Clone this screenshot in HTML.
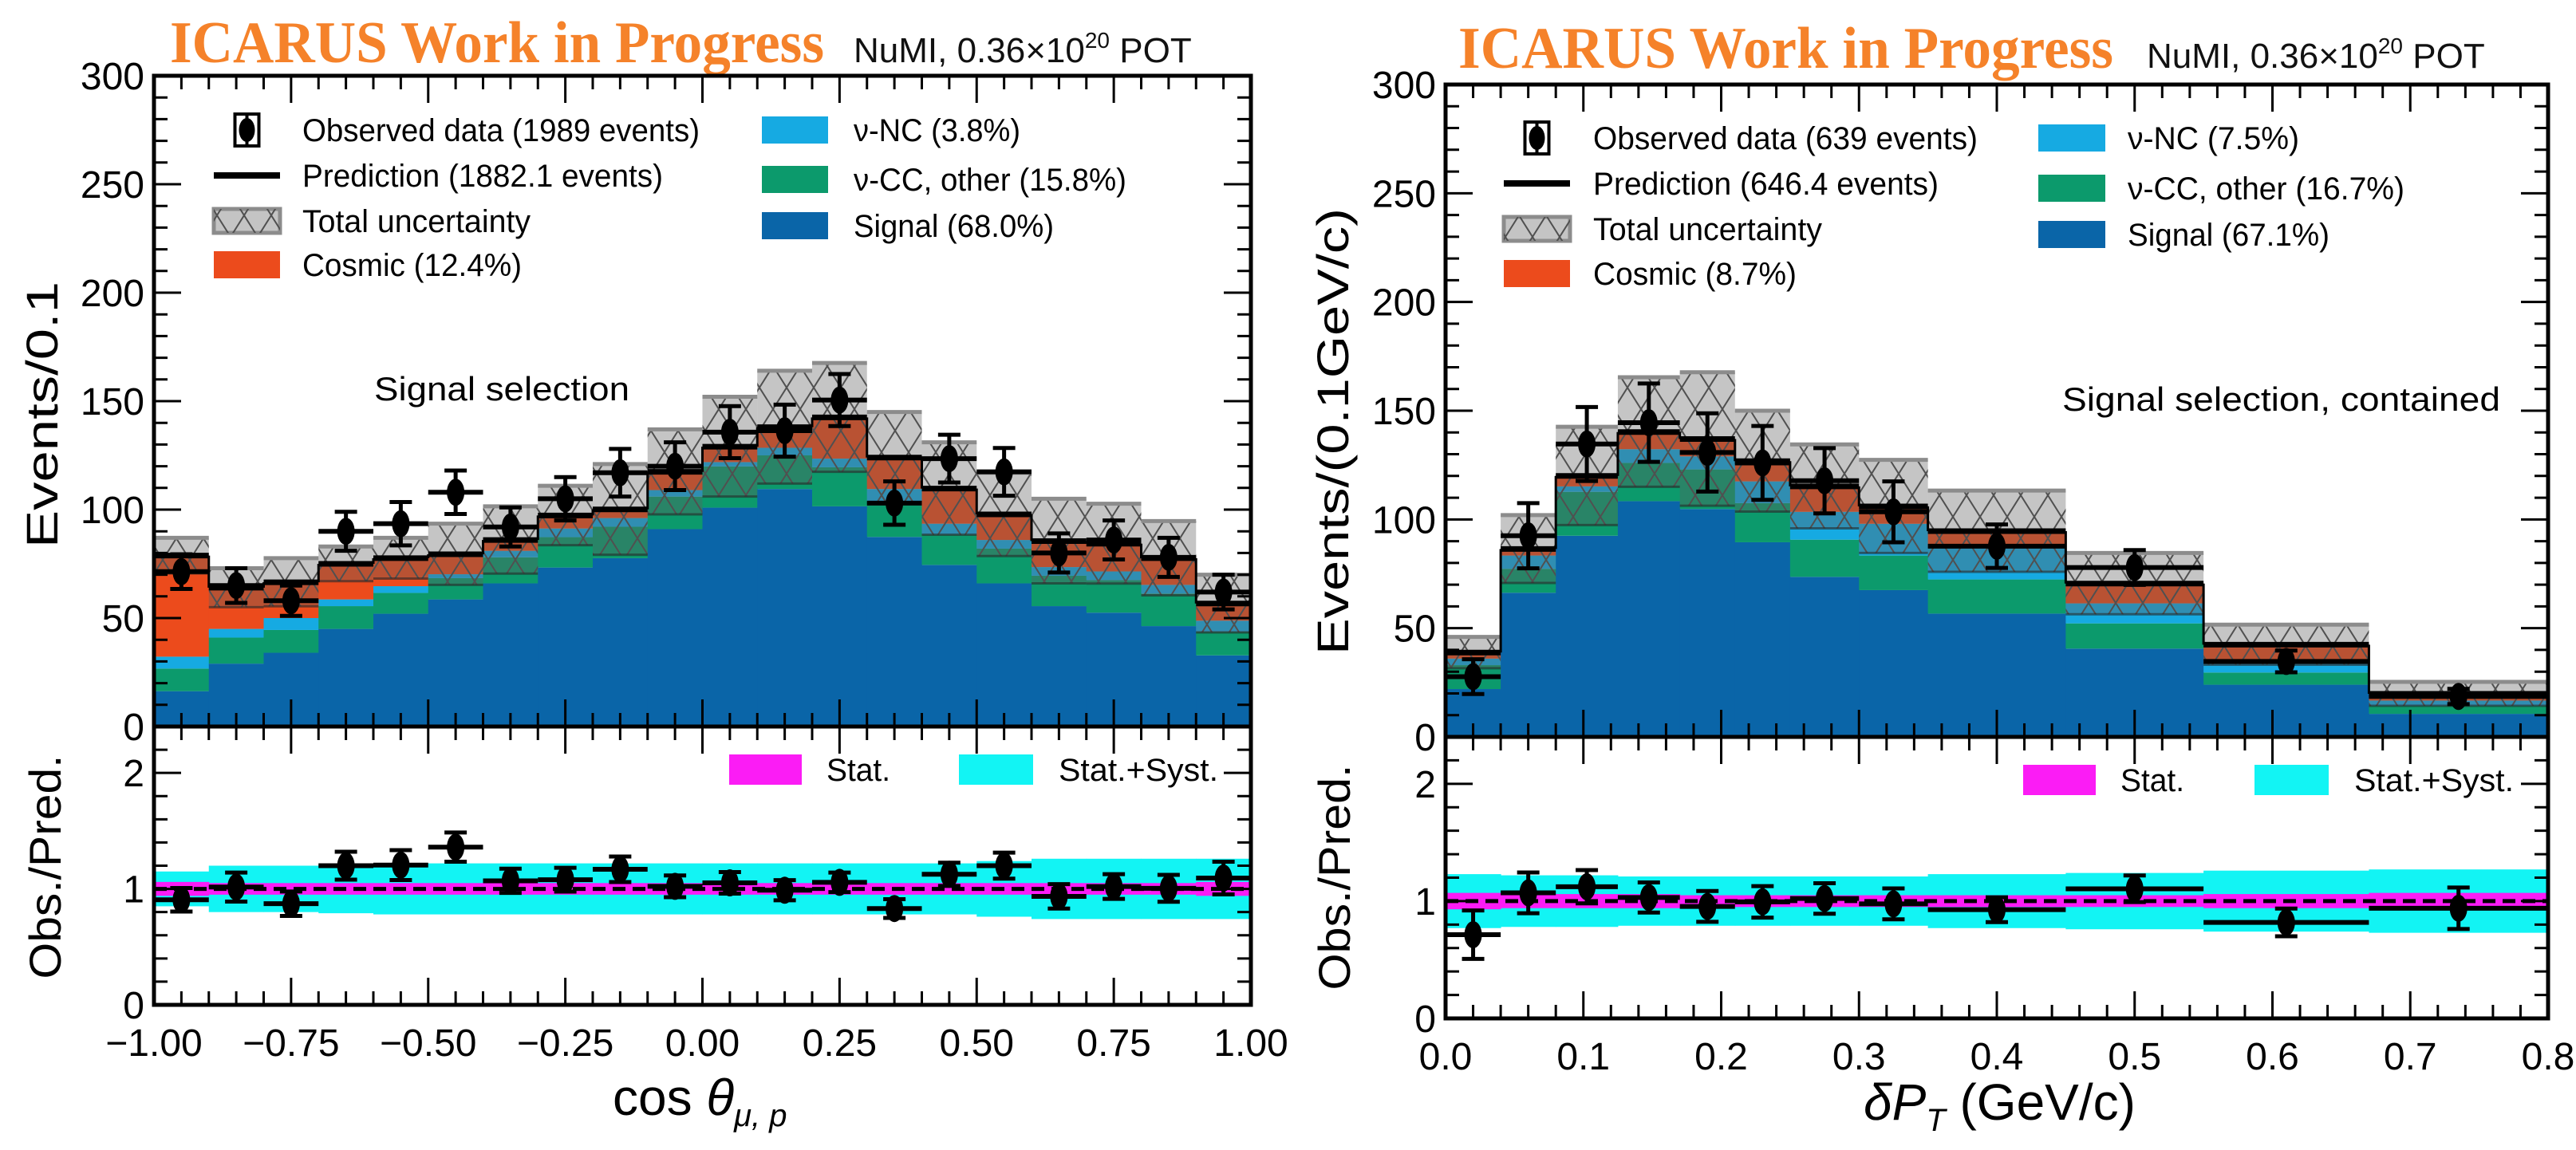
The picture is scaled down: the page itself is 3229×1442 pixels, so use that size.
<!DOCTYPE html>
<html>
<head>
<meta charset="utf-8">
<style>
  html,body{margin:0;padding:0;background:#fff;}
  svg{display:block;font-family:"Liberation Sans",sans-serif;}
</style>
</head>
<body>
<svg id="chart" xmlns="http://www.w3.org/2000/svg" width="3229" height="1442" viewBox="0 0 3229 1442">
  <defs>
    <pattern id="hatch" patternUnits="userSpaceOnUse" width="34" height="54">
      <path d="M0,0 L34,54 M34,0 L0,54" stroke="#505050" stroke-width="2" fill="none"/>
    </pattern>
    <clipPath id="clipL"><rect x="193" y="95" width="1375" height="1166"/></clipPath>
    <clipPath id="clipR"><rect x="1812" y="106" width="1382" height="1171"/></clipPath>
  </defs>

  <!-- Titles -->
  <text x="213" y="78" font-family="Liberation Serif, serif" font-weight="bold" font-size="74" fill="#f5822a" textLength="820" lengthAdjust="spacingAndGlyphs">ICARUS Work in Progress</text>
  <text x="1070" y="78" font-size="44" fill="#111" >NuMI, 0.36×10<tspan font-size="28" dy="-18">20</tspan><tspan dy="18"> POT</tspan></text>
  <text x="1828" y="85" font-family="Liberation Serif, serif" font-weight="bold" font-size="74" fill="#f5822a" textLength="821" lengthAdjust="spacingAndGlyphs">ICARUS Work in Progress</text>
  <text x="2691" y="85" font-size="44" fill="#111">NuMI, 0.36×10<tspan font-size="28" dy="-18">20</tspan><tspan dy="18"> POT</tspan></text>

  <!-- Axis titles -->
  <text transform="translate(72,520) rotate(-90)" text-anchor="middle" font-size="56" textLength="334" lengthAdjust="spacingAndGlyphs">Events/0.1</text>
  <text transform="translate(76,1087) rotate(-90)" text-anchor="middle" font-size="56" textLength="281" lengthAdjust="spacingAndGlyphs">Obs./Pred.</text>
  <text transform="translate(1690,541) rotate(-90)" text-anchor="middle" font-size="56" textLength="560" lengthAdjust="spacingAndGlyphs">Events/(0.1GeV/c)</text>
  <text transform="translate(1692,1100) rotate(-90)" text-anchor="middle" font-size="56" textLength="283" lengthAdjust="spacingAndGlyphs">Obs./Pred.</text>
  <text x="768" y="1398" font-size="64">cos <tspan font-style="italic">θ</tspan><tspan font-size="40" dy="14" font-style="italic">μ, p</tspan></text>
  <text x="2336" y="1404" font-size="64"><tspan font-style="italic">δP</tspan><tspan font-size="40" dy="14" font-style="italic">T</tspan><tspan dy="-14"> (GeV/c)</tspan></text>

  <text x="469" y="502" font-size="42" textLength="320" lengthAdjust="spacingAndGlyphs">Signal selection</text>
  <text x="2585" y="515" font-size="42" textLength="549" lengthAdjust="spacingAndGlyphs">Signal selection, contained</text>
</svg>
<script>
// ---------- LEFT PANEL DATA (cos theta_mu,p) ----------
const leftEdges = [-1.0,-0.9,-0.8,-0.7,-0.6,-0.5,-0.4,-0.3,-0.2,-0.1,0.0,0.1,0.2,0.3,0.4,0.5,0.6,0.7,0.8,0.9,1.0];
const leftSignal = [16.3,29,34,45,52,58.6,66,73.3,77.6,91,100.9,109.5,101.5,87.4,74.5,66,55.5,52.5,46.3,32.8];
const leftCCOther = [10.4,12,10.5,10.5,9.6,9.8,12,14,14.5,15,19,15.5,18,14.6,14,16,14,15,15,11];
const leftNC = [5.5,4,5.5,3.1,3.1,1.8,3,4,4,3,2,3.5,4,7.5,5,4,4,4,4,5];
const leftCosmic = [46.6,19,16.5,16.4,12.9,9.2,5,6,4,8.4,7.1,9.5,19,14.5,16.2,11.8,12,12.8,12.3,7.9];
const leftUncTop = [87,73,77.6,83,87,93.5,101.5,111,121,137,152,164,167.6,145,131,117,105,102.7,94.7,70];
const leftData = [71.4,65,58,90,93.5,108,92,105,117,120,135.7,136.4,150.5,103,123.5,117.4,80,86,78,62];
const leftDataErr = [8,8,7,9,10,10,9,10,11,11,12,12,12,10,11,11,9,9,9,8];
const leftSystBand = [0.15,0.2,0.2,0.21,0.22,0.22,0.22,0.22,0.22,0.22,0.22,0.22,0.22,0.22,0.22,0.24,0.26,0.26,0.26,0.26];
const leftStatBand = [0.06,0.05,0.05,0.05,0.05,0.05,0.05,0.05,0.05,0.05,0.05,0.05,0.05,0.05,0.05,0.05,0.05,0.05,0.05,0.06];
const leftXTicks = [-1.0,-0.75,-0.5,-0.25,0.0,0.25,0.5,0.75,1.0];
const leftXTickLabels = ["\u22121.00","\u22120.75","\u22120.50","\u22120.25","0.00","0.25","0.50","0.75","1.00"];

// ---------- RIGHT PANEL DATA (delta P_T) ----------
const rightEdges = [0,0.04,0.08,0.125,0.17,0.21,0.25,0.3,0.35,0.45,0.55,0.67,0.8];
const rightSignal = [22,66.3,92.5,108.4,104.8,89.5,73.6,67.5,56.7,40.6,24,10.6];
const rightCCOther = [11,11,20.2,17.6,18.2,18,17.1,15.9,15.7,11.6,5.6,3.7];
const rightNC = [3,6.1,2.5,6.3,6,10,12.8,14.6,14.6,9.2,4.9,2.4];
const rightCosmic = [2.8,3,4.8,7.9,8,9.3,11.7,8,7.6,9.1,7.9,3.1];
const rightUncTop = [46,102,142.6,165.4,167.7,150,134.5,127.4,113.3,84.6,51.6,25.3];
const rightData = [27.7,92.5,134.7,144.5,130.8,126,117.8,103.5,87.7,77.9,34.7,18.6];
const rightDataErr = [8,15,17,18,18,17,15,14,10,8,5,3.5];
const rightSystBand = [0.23,0.22,0.22,0.21,0.21,0.21,0.21,0.21,0.23,0.24,0.26,0.27];
const rightStatBand = [0.07,0.06,0.06,0.06,0.05,0.05,0.05,0.05,0.05,0.05,0.06,0.07];
const rightXTicks = [0,0.1,0.2,0.3,0.4,0.5,0.6,0.7,0.8];
const rightXTickLabels = ["0.0","0.1","0.2","0.3","0.4","0.5","0.6","0.7","0.8"];

const mainYTicks = [0,50,100,150,200,250,300];
const ratioYTicks = [0,1,2];

const NS = "http://www.w3.org/2000/svg";
const svg = document.getElementById('chart');
function mk(tag, attrs, parent){
  const e = document.createElementNS(NS, tag);
  for (const k in attrs) e.setAttribute(k, attrs[k]);
  (parent || svg).appendChild(e);
  return e;
}
const COL = {signal:"#0a65a8", cc:"#0c9a6c", nc:"#16aae2", cosmic:"#ec4b1c"};

function drawPanel(P, D){
  const sx = v => P.x0 + (v - P.xmin) / (P.xmax - P.xmin) * (P.x1 - P.x0);
  const sy = v => P.y0 - v / 300 * (P.y0 - P.yTop);
  const sr = r => P.rBot - r / 2.4 * (P.rBot - P.y0);
  const g = mk('g', {'clip-path': 'url(#' + P.clip + ')'});
  
  
  const n = D.edges.length - 1;
  const totals = [];
  for (let i = 0; i < n; i++) {
    const xa = sx(D.edges[i]), xb = sx(D.edges[i+1]);
    const comps = [['signal', D.signal[i]], ['cc', D.cc[i]], ['nc', D.nc[i]], ['cosmic', D.cosmic[i]]];
    let base = 0;
    for (const [key, val] of comps) {
      const r = mk('rect', {x: xa, y: sy(base + val), width: xb - xa + 0.5, height: sy(base) - sy(base + val), fill: COL[key]}, g);
      
      
      base += val;
    }
    totals.push(base);
  }
  for (let i = 0; i < n; i++) {
    const xa = sx(D.edges[i]), xb = sx(D.edges[i+1]);
    const t = totals[i], up = D.unc[i], lo = Math.max(0, 2*t - up);
    const b = mk('rect', {x: xa, y: sy(up), width: xb - xa, height: sy(lo) - sy(up), fill: "rgba(95,95,95,0.36)"}, g);
    
    
    const h = mk('rect', {x: xa, y: sy(up), width: xb - xa, height: sy(lo) - sy(up), fill: "url(#hatch)"}, g);
    
    
    const e1 = mk('line', {x1: xa, x2: xb, y1: sy(up), y2: sy(up), stroke: "#8c8c8c", 'stroke-width': 5}, g);
    
    
    const e2 = mk('line', {x1: xa, x2: xb, y1: sy(lo), y2: sy(lo), stroke: "rgba(40,40,40,0.6)", 'stroke-width': 3}, g);
    
    
  }
  for (let i = 0; i < n; i++) {
    const xa = sx(D.edges[i]), xb = sx(D.edges[i+1]);
    const prev = i > 0 ? totals[i-1] : 0;
    const v = mk('line', {x1: xa, x2: xa, y1: sy(prev), y2: sy(totals[i]), stroke: "#000", 'stroke-width': 3}, g);
    
    
    const l = mk('line', {x1: xa, x2: xb, y1: sy(totals[i]), y2: sy(totals[i]), stroke: "#000", 'stroke-width': 7}, g);
    
    
  }
  for (let i = 0; i < n; i++) {
    const xa = sx(D.edges[i]), xb = sx(D.edges[i+1]), xc = (xa + xb) / 2;
    const y = sy(D.data[i]), yu = sy(D.data[i] + D.err[i]), yd = sy(D.data[i] - D.err[i]);
    const dg = mk('g', {}, g);
    
    
    mk('line', {x1: xa, x2: xb, y1: y, y2: y, stroke: "#000", 'stroke-width': 6}, dg);
    mk('line', {x1: xc, x2: xc, y1: yu, y2: yd, stroke: "#000", 'stroke-width': 5}, dg);
    mk('line', {x1: xc-14, x2: xc+14, y1: yu, y2: yu, stroke: "#000", 'stroke-width': 5}, dg);
    mk('line', {x1: xc-14, x2: xc+14, y1: yd, y2: yd, stroke: "#000", 'stroke-width': 5}, dg);
    mk('ellipse', {cx: xc, cy: y, rx: 11, ry: 17, fill: "#000"}, dg);
  }
  for (let i = 0; i < n; i++) {
    const xa = sx(D.edges[i]), xb = sx(D.edges[i+1]);
    const c = mk('rect', {x: xa, y: sr(1 + D.syst[i]), width: xb - xa + 0.5, height: sr(1 - D.syst[i]) - sr(1 + D.syst[i]), fill: "#12f4f4"}, g);
    
    
  }
  for (let i = 0; i < n; i++) {
    const xa = sx(D.edges[i]), xb = sx(D.edges[i+1]);
    const m = mk('rect', {x: xa, y: sr(1 + D.stat[i]), width: xb - xa + 0.5, height: sr(1 - D.stat[i]) - sr(1 + D.stat[i]), fill: "#fb1cf5"}, g);
    
    
  }
  const dl = mk('line', {x1: P.x0, x2: P.x1, y1: sr(1), y2: sr(1), stroke: "#000", 'stroke-width': 5, 'stroke-dasharray': "16,9"}, g);
  
  
  for (let i = 0; i < n; i++) {
    const xa = sx(D.edges[i]), xb = sx(D.edges[i+1]), xc = (xa + xb) / 2;
    const r = D.data[i] / totals[i], re = D.err[i] / totals[i];
    const y = sr(r), yu = sr(r + re), yd = sr(r - re);
    const dg = mk('g', {}, g);
    
    
    mk('line', {x1: xa, x2: xb, y1: y, y2: y, stroke: "#000", 'stroke-width': 6}, dg);
    mk('line', {x1: xc, x2: xc, y1: yu, y2: yd, stroke: "#000", 'stroke-width': 5}, dg);
    mk('line', {x1: xc-14, x2: xc+14, y1: yu, y2: yu, stroke: "#000", 'stroke-width': 5}, dg);
    mk('line', {x1: xc-14, x2: xc+14, y1: yd, y2: yd, stroke: "#000", 'stroke-width': 5}, dg);
    mk('ellipse', {cx: xc, cy: y, rx: 11, ry: 17, fill: "#000"}, dg);
  }
  const ax = mk('g', {stroke: "#000"});
  
  
  mk('rect', {x: P.x0, y: P.yTop, width: P.x1 - P.x0, height: P.rBot - P.yTop, fill: "none", 'stroke-width': 5}, ax);
  mk('line', {x1: P.x0, x2: P.x1, y1: P.y0, y2: P.y0, 'stroke-width': 5}, ax);
  const span = P.xmax - P.xmin;
  for (let k = 0; k <= Math.round(span / P.xMinor); k++) {
    const v = P.xmin + k * P.xMinor;
    const x = sx(v);
    const major = Math.abs(((v - P.xmin) / P.xMajor) - Math.round((v - P.xmin) / P.xMajor)) < 1e-6;
    const L = major ? 34 : 17;
    for (const yb of [P.yTop, P.y0]) mk('line', {x1: x, x2: x, y1: yb, y2: yb + L, 'stroke-width': 3}, ax);
    for (const yb of [P.y0, P.rBot]) mk('line', {x1: x, x2: x, y1: yb, y2: yb - L, 'stroke-width': 3}, ax);
  }
  for (let v = 0; v <= 300; v += 10) {
    const y = sy(v), L = (v % 50 === 0) ? 34 : 17;
    mk('line', {x1: P.x0, x2: P.x0 + L, y1: y, y2: y, 'stroke-width': 3}, ax);
    mk('line', {x1: P.x1, x2: P.x1 - L, y1: y, y2: y, 'stroke-width': 3}, ax);
  }
  for (let k = 0; k <= 12; k++) {
    const r = k * 0.2, y = sr(r), L = (k % 5 === 0) ? 34 : 17;
    mk('line', {x1: P.x0, x2: P.x0 + L, y1: y, y2: y, 'stroke-width': 3}, ax);
    mk('line', {x1: P.x1, x2: P.x1 - L, y1: y, y2: y, 'stroke-width': 3}, ax);
  }
  mainYTicks.forEach(v => {
    const t = mk('text', {x: P.x0 - 12, y: sy(v) + 17, 'text-anchor': "end", 'font-size': 48, fill: "#000"});
    
    
    t.textContent = String(v);
  });
  ratioYTicks.forEach(v => {
    const t = mk('text', {x: P.x0 - 12, y: sr(v) + 17, 'text-anchor': "end", 'font-size': 48, fill: "#000"});
    
    
    t.textContent = String(v);
  });
  P.xTicks.forEach((v, i) => {
    const t = mk('text', {x: sx(v), y: P.rBot + 64, 'text-anchor': "middle", 'font-size': 48, fill: "#000"});
    
    
    t.textContent = P.xLabels[i];
  });
}

drawPanel({name: 'left', clip: 'clipL', x0: 193, x1: 1568, xmin: -1, xmax: 1, yTop: 95, y0: 911, rBot: 1260,
  xMinor: 0.05, xMajor: 0.25, xTicks: leftXTicks, xLabels: leftXTickLabels},
  {edges: leftEdges, signal: leftSignal, cc: leftCCOther, nc: leftNC, cosmic: leftCosmic, unc: leftUncTop,
   data: leftData, err: leftDataErr, syst: leftSystBand, stat: leftStatBand});
drawPanel({name: 'right', clip: 'clipR', x0: 1812, x1: 3194, xmin: 0, xmax: 0.8, yTop: 106, y0: 924, rBot: 1277,
  xMinor: 0.02, xMajor: 0.1, xTicks: rightXTicks, xLabels: rightXTickLabels},
  {edges: rightEdges, signal: rightSignal, cc: rightCCOther, nc: rightNC, cosmic: rightCosmic, unc: rightUncTop,
   data: rightData, err: rightDataErr, syst: rightSystBand, stat: rightStatBand});

function legend(L){
  const lg = mk('g', {});
  
  
  const cx = (L.bx0 + L.bx1) / 2, r0 = L.rows1[0];
  mk('rect', {x: cx - 15, y: r0 - 20, width: 30, height: 40, fill: "none", stroke: "#000", 'stroke-width': 4}, lg);
  mk('line', {x1: cx, x2: cx, y1: r0 - 20, y2: r0 + 20, stroke: "#000", 'stroke-width': 4}, lg);
  mk('ellipse', {cx: cx, cy: r0, rx: 10, ry: 15, fill: "#000"}, lg);
  mk('line', {x1: L.bx0, x2: L.bx1, y1: L.rows1[1], y2: L.rows1[1], stroke: "#000", 'stroke-width': 8}, lg);
  mk('rect', {x: L.bx0, y: L.rows1[2] - 15, width: L.bx1 - L.bx0, height: 30, fill: "#c4c4c4", stroke: "#8c8c8c", 'stroke-width': 5}, lg);
  mk('rect', {x: L.bx0, y: L.rows1[2] - 15, width: L.bx1 - L.bx0, height: 30, fill: "url(#hatch)"}, lg);
  mk('rect', {x: L.bx0, y: L.rows1[3] - 17, width: L.bx1 - L.bx0, height: 34, fill: COL.cosmic}, lg);
  mk('rect', {x: L.cx0, y: L.rows2[0] - 17, width: L.cx1 - L.cx0, height: 34, fill: COL.nc}, lg);
  mk('rect', {x: L.cx0, y: L.rows2[1] - 17, width: L.cx1 - L.cx0, height: 34, fill: COL.cc}, lg);
  mk('rect', {x: L.cx0, y: L.rows2[2] - 17, width: L.cx1 - L.cx0, height: 34, fill: COL.signal}, lg);
  L.texts1.forEach((s, i) => {
    const t = mk('text', {x: L.tx1, y: L.rows1[i] + 14, 'font-size': 40, textLength: L.w1[i], lengthAdjust: "spacingAndGlyphs"}, lg);
    
    
    t.textContent = s;
  });
  L.texts2.forEach((s, i) => {
    const t = mk('text', {x: L.tx2, y: L.rows2[i] + 14, 'font-size': 40, textLength: L.w2[i], lengthAdjust: "spacingAndGlyphs"}, lg);
    
    
    t.textContent = s;
  });
  mk('rect', {x: L.sx0, y: L.sy - 19, width: 91, height: 38, fill: "#fb1cf5"}, lg);
  mk('rect', {x: L.sx1, y: L.sy - 19, width: 93, height: 38, fill: "#12f4f4"}, lg);
  const t1 = mk('text', {x: L.sx0 + 122, y: L.sy + 14, 'font-size': 40, textLength: 80, lengthAdjust: "spacingAndGlyphs"}, lg);
  
  
  t1.textContent = "Stat.";
  const t2 = mk('text', {x: L.sx1 + 125, y: L.sy + 14, 'font-size': 40, textLength: 200, lengthAdjust: "spacingAndGlyphs"}, lg);
  
  
  t2.textContent = "Stat.+Syst.";
}
legend({name: 'left-legend', bx0: 268, bx1: 351, tx1: 379, rows1: [163,220,277,332],
  cx0: 955, cx1: 1038, tx2: 1070, rows2: [163,225,283],
  texts1: ["Observed data (1989 events)","Prediction (1882.1 events)","Total uncertainty","Cosmic (12.4%)"],
  w1: [498,452,286,275],
  texts2: ["\u03bd-NC (3.8%)","\u03bd-CC, other (15.8%)","Signal (68.0%)"],
  w2: [209,342,251], sx0: 914, sx1: 1202, sy: 965});
legend({name: 'right-legend', bx0: 1885, bx1: 1968, tx1: 1997, rows1: [173,230,287,343],
  cx0: 2555, cx1: 2639, tx2: 2667, rows2: [173,236,294],
  texts1: ["Observed data (639 events)","Prediction (646.4 events)","Total uncertainty","Cosmic (8.7%)"],
  w1: [482,433,287,255],
  texts2: ["\u03bd-NC (7.5%)","\u03bd-CC, other (16.7%)","Signal (67.1%)"],
  w2: [215,347,253], sx0: 2536, sx1: 2826, sy: 978});
</script>
</body>
</html>
